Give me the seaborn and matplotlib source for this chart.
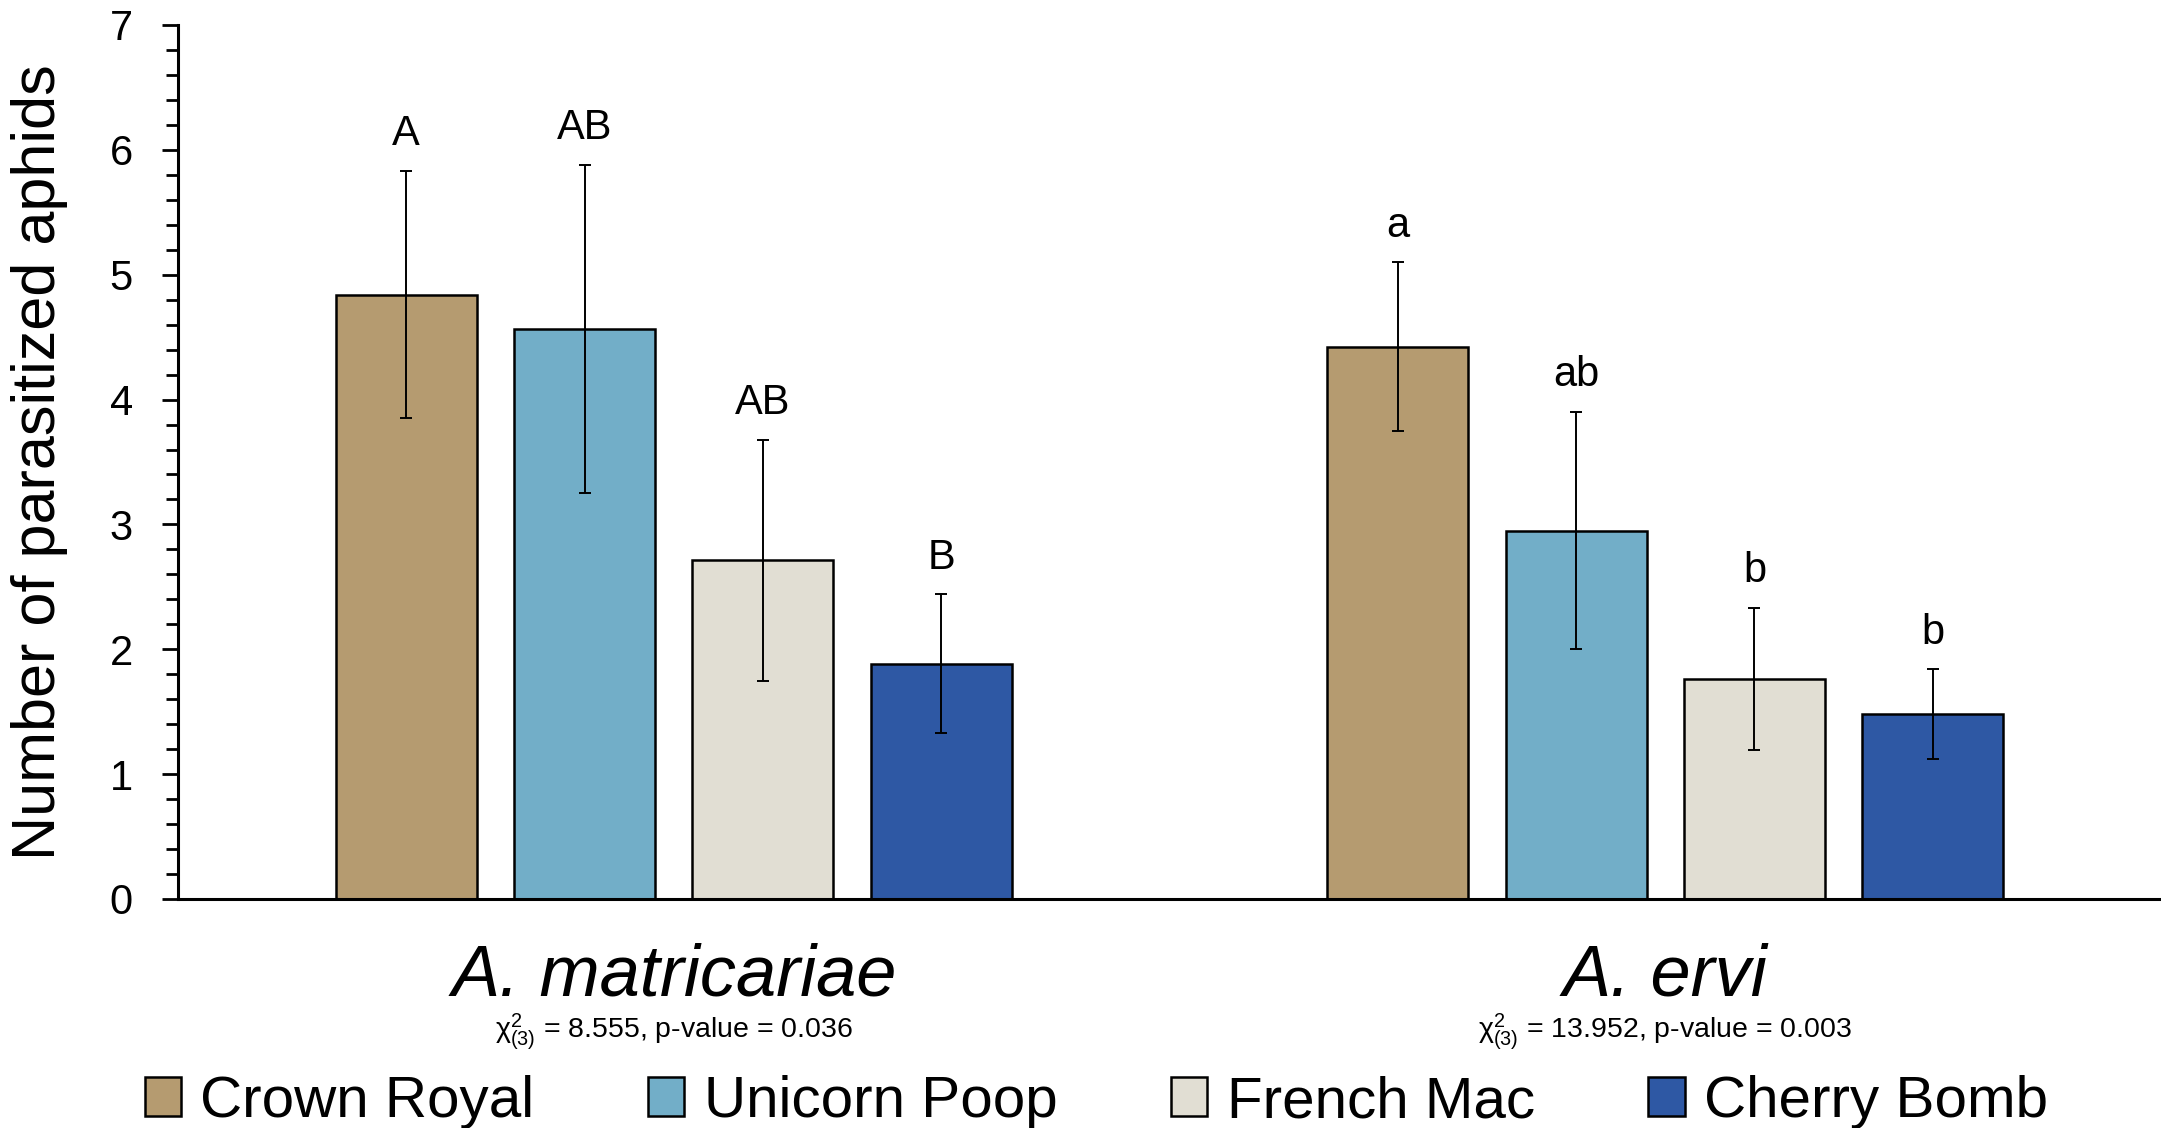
import matplotlib
matplotlib.use("Agg")
import matplotlib.pyplot as plt
from matplotlib.ticker import MultipleLocator
import matplotlib.transforms as mtransforms
import seaborn as sns
import pandas as pd

# ---- data -------------------------------------------------------------
species = ["A. matricariae", "A. ervi"]
cultivars = ["Crown Royal", "Unicorn Poop", "French Mac", "Cherry Bomb"]
cultivar_colors = ["#B59B70", "#72AEC8", "#E1DED3", "#2E58A4"]

mean_matricariae = [4.84, 4.565, 2.715, 1.885]
mean_ervi = [4.425, 2.95, 1.76, 1.48]
se_matricariae = [0.99, 1.315, 0.965, 0.555]
se_ervi = [0.675, 0.95, 0.57, 0.36]
letters_matricariae = ["A", "AB", "AB", "B"]
letters_ervi = ["a", "ab", "b", "b"]
stats_labels = ["χ$^{2}_{(3)}$ = 8.555, p-value = 0.036",
                "χ$^{2}_{(3)}$ = 13.952, p-value = 0.003"]
y_ticks = [0, 1, 2, 3, 4, 5, 6, 7]

# ---- table ------------------------------------------------------------
means = {species[0]: mean_matricariae, species[1]: mean_ervi}
ses = {species[0]: se_matricariae, species[1]: se_ervi}
letters = {species[0]: letters_matricariae, species[1]: letters_ervi}
rows = []
for sp in species:
    for i, cv in enumerate(cultivars):
        rows.append({"species": sp, "cultivar": cv, "mean": means[sp][i],
                     "se": ses[sp][i], "letter": letters[sp][i]})
df = pd.DataFrame(rows)

# ---- style ------------------------------------------------------------
sns.set_style("ticks")
plt.rcParams["font.family"] = ["Liberation Sans", "DejaVu Sans"]
plt.rcParams["mathtext.fontset"] = "custom"
plt.rcParams["mathtext.rm"] = "Liberation Sans"
plt.rcParams["mathtext.it"] = "Liberation Sans:italic"
plt.rcParams["mathtext.bf"] = "Liberation Sans:bold"
for key in ["text.color", "axes.labelcolor", "xtick.color", "ytick.color",
            "axes.edgecolor"]:
    plt.rcParams[key] = "black"

fig = plt.figure(figsize=(21.61, 11.28), dpi=100)
ax = fig.add_axes([178 / 2161, 1 - 899 / 1128, 1 - 178 / 2161, (899 - 25) / 1128])

sns.barplot(data=df, x="species", y="mean", hue="cultivar",
            order=species, hue_order=cultivars, palette=cultivar_colors,
            width=0.72, gap=0.21, errorbar=None,
            edgecolor="black", linewidth=1.8, saturation=1, ax=ax)

# error bars and significance letters on top of every bar
for cv, container in zip(cultivars, ax.containers):
    for sp, bar in zip(species, container):
        row = df[(df.species == sp) & (df.cultivar == cv)].iloc[0]
        xc = bar.get_x() + bar.get_width() / 2
        ax.errorbar(xc, row["mean"], yerr=row["se"], fmt="none",
                    ecolor="black", elinewidth=1.4, capsize=4.3,
                    capthick=1.4, zorder=5)
        ax.annotate(row["letter"], (xc, row["mean"] + row["se"]),
                    xytext=(0, 18.5), textcoords="offset points",
                    ha="center", va="baseline", fontsize=30)

# axes
ax.set_xlim(-0.5, 1.5)
ax.set_ylim(0, 7)
ax.set_yticks(y_ticks)
ax.yaxis.set_minor_locator(MultipleLocator(0.2))
ax.tick_params(axis="y", which="major", length=11.5, width=2, labelsize=30,
               pad=21, direction="out")
ax.tick_params(axis="y", which="minor", length=8.5, width=2, direction="out",
               left=True)
ax.tick_params(axis="x", length=0, labelsize=52, pad=31)
for lab in ax.get_xticklabels():
    lab.set_fontstyle("italic")
ax.set_xlabel("")
ax.set_ylabel("Number of parasitized aphids", fontsize=44, labelpad=30)
sns.despine(ax=ax)
ax.spines["left"].set_linewidth(2.2)
ax.spines["bottom"].set_linewidth(2.2)

# chi-square results under each species name
trans = mtransforms.blended_transform_factory(ax.transData, ax.transAxes)
for i, txt in enumerate(stats_labels):
    ax.text(i, -0.159, txt, transform=trans, ha="center", va="baseline",
            fontsize=20.5)

# legend along the bottom of the figure
handles, labels = ax.get_legend_handles_labels()
ax.get_legend().remove()
fig.legend(handles, labels, loc="lower center", ncol=4,
           bbox_to_anchor=(0.5074, -0.001), frameon=False, fontsize=42,
           handlelength=0.62, handleheight=0.65, handletextpad=0.33,
           columnspacing=1.95, borderpad=0, borderaxespad=0)

fig.savefig("out.png", dpi=100)
